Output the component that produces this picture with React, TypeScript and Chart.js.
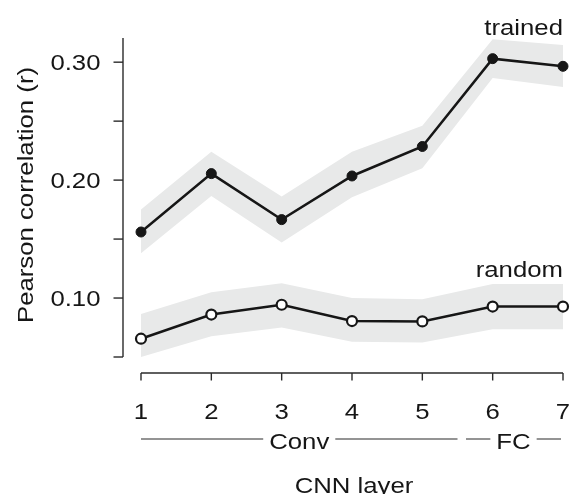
import React, { useEffect, useRef } from "react";
import { Chart, registerables } from "chart.js";

Chart.register(...registerables);

const layers = [1, 2, 3, 4, 5, 6, 7];
const trained = [0.156, 0.2055, 0.1665, 0.2035, 0.2285, 0.303, 0.2965];
const trainedUpper = [0.175, 0.224, 0.186, 0.224, 0.246, 0.3195, 0.3145];
const trainedLower = [0.138, 0.1865, 0.147, 0.1855, 0.21, 0.2865, 0.279];
const random = [0.0655, 0.086, 0.0943, 0.0805, 0.0802, 0.0928, 0.0928];
const randomUpper = [0.0865, 0.105, 0.1125, 0.1, 0.099, 0.112, 0.112];
const randomLower = [0.05, 0.0675, 0.075, 0.063, 0.0622, 0.0736, 0.0736];

const yTicks = [0.05, 0.1, 0.15, 0.2, 0.25, 0.3];
const yTickLabels = ["", "0.10", "", "0.20", "", "0.30"];
const xTickLabels = ["1", "2", "3", "4", "5", "6", "7"];
const groupLabels = ["Conv", "FC"];
const groupStarts = [1, 5.5];
const groupEnds = [5.5, 7];
const seriesLabels = ["trained", "random"];
const yTitle = "Pearson correlation (r)";
const xTitle = "CNN layer";

const FONT = "22px 'Liberation Sans', Arial, Helvetica, sans-serif";
const STRETCH = 1.17;
const INK = "#161616";
const AXIS = "#2a2a2a";
const BAND = "#e8e9e9";

function pts(vals: number[]) {
  return layers.map((x, i) => ({ x, y: vals[i] }));
}

function drawText(
  ctx: CanvasRenderingContext2D,
  text: string,
  x: number,
  y: number,
  align: CanvasTextAlign,
  rotate = 0
) {
  ctx.save();
  ctx.font = FONT;
  ctx.fillStyle = INK;
  ctx.textAlign = align;
  ctx.textBaseline = "alphabetic";
  ctx.translate(x, y);
  if (rotate) ctx.rotate(rotate);
  ctx.scale(STRETCH, 1);
  ctx.fillText(text, 0, 0);
  ctx.restore();
}

function textWidth(ctx: CanvasRenderingContext2D, text: string) {
  ctx.save();
  ctx.font = FONT;
  const w = ctx.measureText(text).width * STRETCH;
  ctx.restore();
  return w;
}

const axesPlugin = {
  id: "customAxes",
  afterDraw(chart: any) {
    const ctx: CanvasRenderingContext2D = chart.ctx;
    const xs = chart.scales.x;
    const ys = chart.scales.y;
    const area = chart.chartArea;

    // y axis (offset spine)
    const axX = area.left - 18;
    ctx.save();
    ctx.strokeStyle = AXIS;
    ctx.lineWidth = 1.4;
    ctx.beginPath();
    ctx.moveTo(axX, area.top);
    ctx.lineTo(axX, ys.getPixelForValue(yTicks[0]));
    ctx.stroke();
    yTicks.forEach((v, i) => {
      const py = ys.getPixelForValue(v);
      ctx.beginPath();
      ctx.moveTo(axX - 9.5, py);
      ctx.lineTo(axX, py);
      ctx.stroke();
      if (yTickLabels[i]) drawText(ctx, yTickLabels[i], axX - 22.5, py + 8, "right");
    });

    // x axis (offset spine)
    const axY = area.bottom + 16;
    ctx.beginPath();
    ctx.moveTo(xs.getPixelForValue(layers[0]), axY);
    ctx.lineTo(xs.getPixelForValue(layers[layers.length - 1]), axY);
    ctx.stroke();
    layers.forEach((v, i) => {
      const px = xs.getPixelForValue(v);
      ctx.beginPath();
      ctx.moveTo(px, axY);
      ctx.lineTo(px, axY + 7.5);
      ctx.stroke();
      drawText(ctx, xTickLabels[i], px, axY + 46, "center");
    });

    // group brackets (Conv / FC)
    const gY = axY + 66;
    ctx.lineWidth = 1.2;
    groupLabels.forEach((lab, i) => {
      const x0 = xs.getPixelForValue(groupStarts[i]) + (i > 0 ? 8.5 : 0);
      const x1 = xs.getPixelForValue(groupEnds[i]) - (i < groupLabels.length - 1 ? 0 : 2);
      const cx = (x0 + x1) / 2;
      const w = textWidth(ctx, lab);
      const gap = 6;
      ctx.beginPath();
      ctx.moveTo(x0, gY);
      ctx.lineTo(cx - w / 2 - gap, gY);
      ctx.moveTo(cx + w / 2 + gap, gY);
      ctx.lineTo(x1, gY);
      ctx.stroke();
      drawText(ctx, lab, cx, gY + 10, "center");
    });
    ctx.restore();

    // axis titles
    drawText(ctx, xTitle, (area.left + area.right) / 2 + 2, 493, "center");
    drawText(ctx, yTitle, 32.5, 195, "center", -Math.PI / 2);

    // series labels
    drawText(ctx, seriesLabels[0], area.right, 35, "right");
    drawText(ctx, seriesLabels[1], area.right, 277, "right");
  },
};

export default function App() {
  const ref = useRef<HTMLCanvasElement | null>(null);
  useEffect(() => {
    if (!ref.current) return;
    const chart = new Chart(ref.current, {
      type: "line",
      data: {
        datasets: [
          {
            label: "trained",
            data: pts(trained),
            borderColor: INK,
            borderWidth: 2.5,
            pointRadius: 5,
            pointBackgroundColor: INK,
            pointBorderColor: INK,
            pointBorderWidth: 1,
            fill: false,
            order: 0,
            clip: false as any,
          },
          {
            label: "random",
            data: pts(random),
            borderColor: INK,
            borderWidth: 2.5,
            pointRadius: 5,
            pointBackgroundColor: "#ffffff",
            pointBorderColor: INK,
            pointBorderWidth: 2.2,
            fill: false,
            order: 0,
            clip: false as any,
          },
          {
            label: "trainedUpper",
            data: pts(trainedUpper),
            borderWidth: 0,
            borderColor: "rgba(0,0,0,0)",
            pointRadius: 0,
            fill: false,
            order: 1,
          },
          {
            label: "trainedLower",
            data: pts(trainedLower),
            borderWidth: 0,
            borderColor: "rgba(0,0,0,0)",
            backgroundColor: BAND,
            pointRadius: 0,
            fill: "-1",
            order: 1,
          },
          {
            label: "randomUpper",
            data: pts(randomUpper),
            borderWidth: 0,
            borderColor: "rgba(0,0,0,0)",
            pointRadius: 0,
            fill: false,
            order: 1,
          },
          {
            label: "randomLower",
            data: pts(randomLower),
            borderWidth: 0,
            borderColor: "rgba(0,0,0,0)",
            backgroundColor: BAND,
            pointRadius: 0,
            fill: "-1",
            order: 1,
          },
        ],
      },
      options: {
        animation: false,
        responsive: true,
        maintainAspectRatio: false,
        layout: { padding: { left: 141, right: 10, top: 38, bottom: 137 } },
        scales: {
          x: { type: "linear", min: 1, max: 7, display: false },
          y: { type: "linear", min: 0.05, max: 0.3205, display: false },
        },
        plugins: {
          legend: { display: false },
          tooltip: { enabled: false },
          filler: { drawTime: "beforeDatasetsDraw" } as any,
        },
        elements: { line: { tension: 0 } },
      },
      plugins: [axesPlugin],
    });
    return () => chart.destroy();
  }, []);
  return (
    <div style={{ position: "fixed", left: 0, top: 0, width: 573, height: 494 }}>
      <canvas ref={ref} />
    </div>
  );
}
